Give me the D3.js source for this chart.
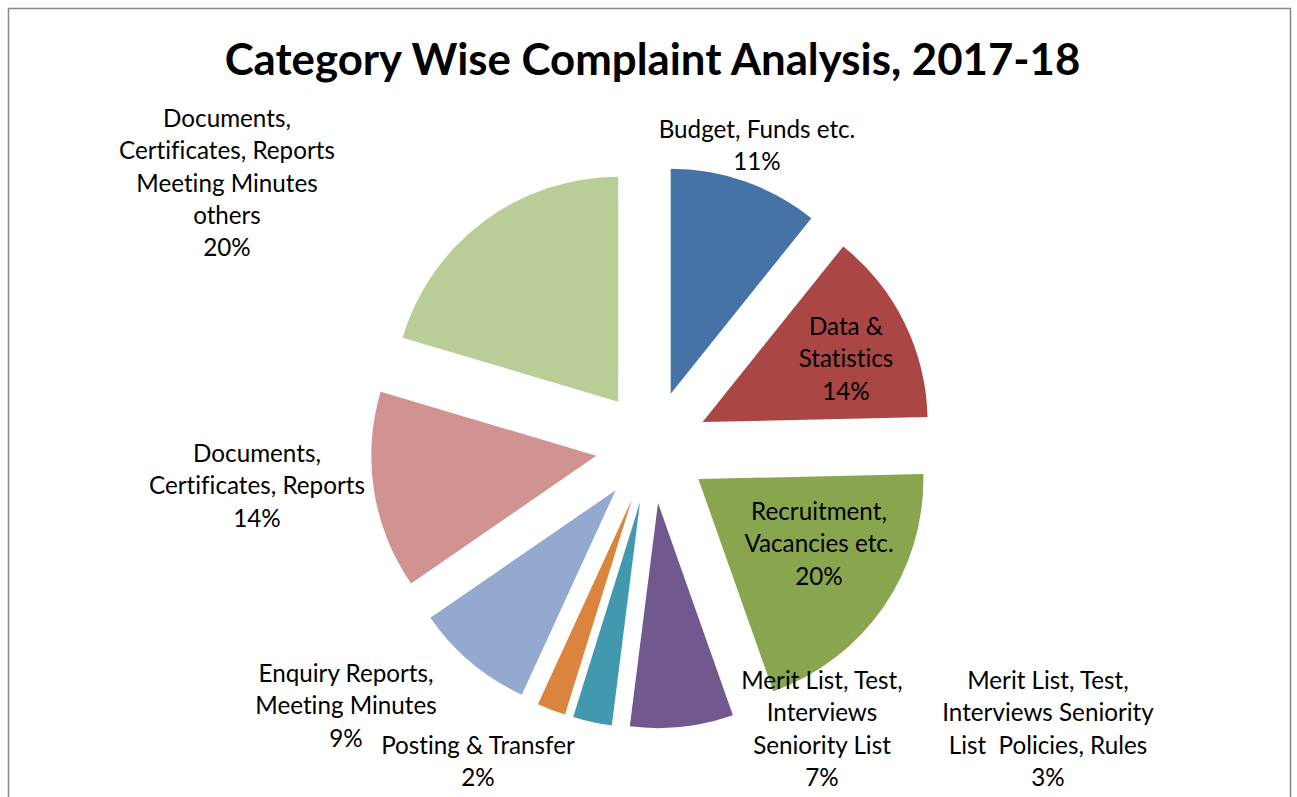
<!DOCTYPE html>
<html>
<head>
<meta charset="utf-8">
<script src="https://cdn.jsdelivr.net/npm/d3@7"></script>
<style>
  body { margin: 0; background: #fff; }
  svg { display: block; }
  text { font-family: Lato, "Open Sans", "DejaVu Sans", sans-serif; fill: #000; white-space: pre; font-variant-ligatures: none; }
</style>
</head>
<body>
<svg id="chart" width="1297" height="797"></svg>
<script>
// data (share of complaints, percent)
var categories = [
  "Budget, Funds etc.",
  "Data & Statistics",
  "Recruitment, Vacancies etc.",
  "Merit List, Test, Interviews Seniority List",
  "Merit List, Test, Interviews Seniority List  Policies, Rules",
  "Posting & Transfer",
  "Enquiry Reports, Meeting Minutes",
  "Documents, Certificates, Reports",
  "Documents, Certificates, Reports Meeting Minutes others"
];
var values = [10.75, 13.9, 19.95, 7.4, 2.8, 2.05, 8.55, 14.2, 20.4];
// how each label wraps in the picture
var labelLines = [
  ["Budget, Funds etc."],
  ["Data &", "Statistics"],
  ["Recruitment,", "Vacancies etc."],
  ["Merit List, Test,", "Interviews", "Seniority List"],
  ["Merit List, Test,", "Interviews Seniority", "List  Policies, Rules"],
  ["Posting & Transfer"],
  ["Enquiry Reports,", "Meeting Minutes"],
  ["Documents,", "Certificates, Reports"],
  ["Documents,", "Certificates, Reports", "Meeting Minutes", "others"]
];
var title = "Category Wise Complaint Analysis, 2017-18";

// styles / layout
var colors = ["#4572A7", "#AA4643", "#89A54E", "#71588F", "#4198AF", "#DB843D", "#93A9CF", "#D19392", "#B9CD96"];
// label anchor: centre x, first baseline y
var labelPos = [[757, 138], [846, 335], [819, 520], [822, 689], [1048, 689], [478, 754], [346, 682], [257, 462], [227, 127]];
var lineH = 32.3;

var svg = d3.select("#chart"),
    cx = 652, cy = 447,
    radius = 225,
    explode = 56.4;

// chart border
svg.append("rect")
    .attr("x", 8.5).attr("y", 8.5)
    .attr("width", 1282).attr("height", 820)
    .attr("fill", "#fff")
    .attr("stroke", "#868686")
    .attr("stroke-width", 1.5);

// fit a font size so that a text gets a given width
function fitSize(txt, weight, target) {
  var t = svg.append("text").attr("font-size", 100).attr("font-weight", weight).text(txt);
  var w = t.node().getComputedTextLength();
  t.remove();
  return 100 * target / w;
}

var titleSize = fitSize(title, "bold", 856);
var labelSize = fitSize("Certificates, Reports", "normal", 216);

svg.append("text")
    .attr("x", 652.5)
    .attr("y", 75)
    .attr("text-anchor", "middle")
    .attr("font-weight", "bold")
    .attr("font-size", titleSize)
    .text(title);

var pie = d3.pie().sort(null).value(function(d) { return d; });
var arc = d3.arc().innerRadius(0).outerRadius(radius);
var arcs = pie(values);
var total = d3.sum(values);

var g = svg.append("g").attr("transform", "translate(" + cx + "," + cy + ")");

// exploded slices
g.selectAll("path")
  .data(arcs)
  .enter()
  .append("path")
    .attr("d", arc)
    .attr("fill", function(d, i) { return colors[i]; })
    .attr("transform", function(d) {
      var a = (d.startAngle + d.endAngle) / 2;
      return "translate(" + (Math.sin(a) * explode) + "," + (-Math.cos(a) * explode) + ")";
    });

// data labels: category + percent
var labels = svg.selectAll(".lbl")
  .data(arcs)
  .enter()
  .append("text")
    .attr("class", "lbl")
    .attr("text-anchor", "middle")
    .attr("font-size", labelSize);

labels.each(function(d, i) {
  var lines = labelLines[i].concat([Math.round(d.value / total * 100) + "%"]);
  var t = d3.select(this);
  for (var k = 0; k < lines.length; k++) {
    t.append("tspan")
      .attr("x", labelPos[i][0])
      .attr("y", labelPos[i][1] + k * lineH)
      .text(lines[k]);
  }
});
</script>
</body>
</html>
